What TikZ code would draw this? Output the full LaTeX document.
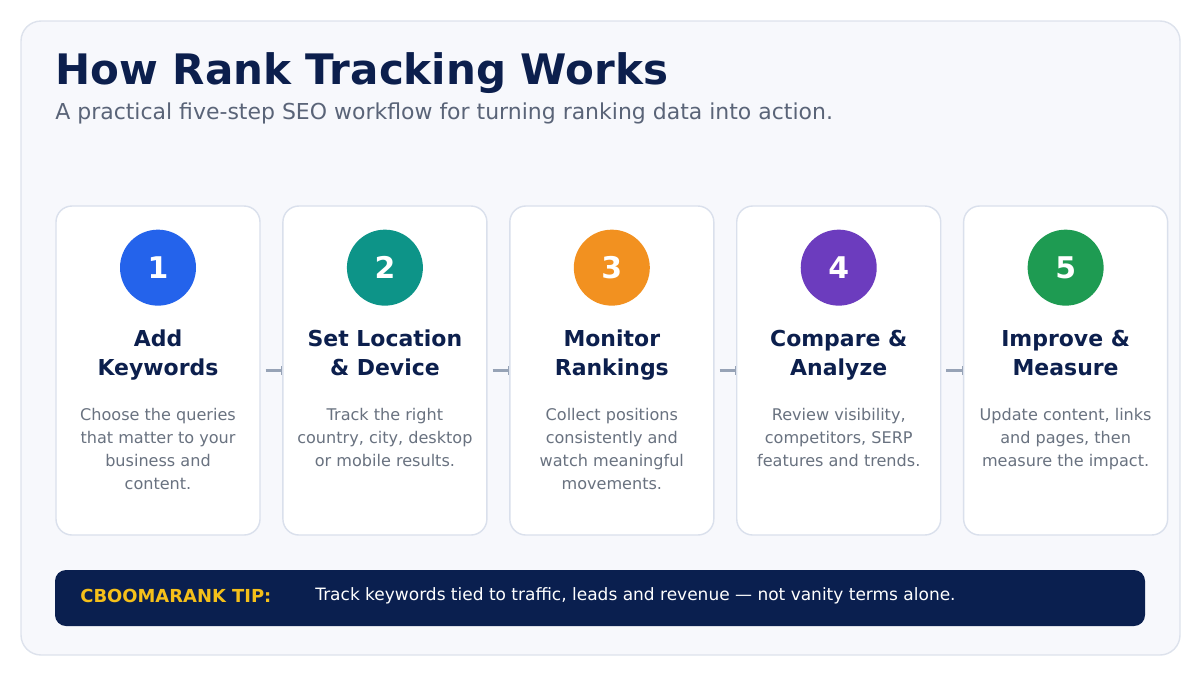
\documentclass[tikz,border=0pt]{standalone}
\usepackage{fontspec}
\setmainfont{DejaVu Sans}
\usepackage{xcolor}
\usetikzlibrary{arrows.meta,positioning}
\definecolor{panelbg}{RGB}{247,248,252}
\definecolor{panelframe}{RGB}{221,226,236}
\definecolor{cardframe}{RGB}{218,224,236}
\definecolor{navy}{RGB}{12,31,77}
\definecolor{subgray}{RGB}{90,100,120}
\definecolor{descgray}{RGB}{105,114,128}
\definecolor{linkgray}{RGB}{151,163,182}
\definecolor{stepblue}{RGB}{36,99,235}
\definecolor{stepteal}{RGB}{13,148,136}
\definecolor{steporange}{RGB}{242,145,32}
\definecolor{steppurple}{RGB}{108,60,190}
\definecolor{stepgreen}{RGB}{30,155,82}
\definecolor{tipbg}{RGB}{10,31,79}
\definecolor{tipgold}{RGB}{245,192,26}
\begin{document}
\begin{tikzpicture}[
  card/.style={draw=cardframe,line width=0.8pt,rounded corners=0.32cm,fill=white,
    minimum width=4.08cm,minimum height=6.58cm},
  badge/.style={circle,minimum size=1.52cm,inner sep=0pt,text=white,
    font=\fontsize{17}{20}\selectfont\bfseries},
  head/.style={align=center,inner sep=0pt,text=navy,
    font=\fontsize{12.5}{16.5}\selectfont\bfseries},
  desc/.style={align=center,inner sep=0pt,text=descgray,
    font=\fontsize{9.15}{13.1}\selectfont},
  link/.style={-{Bar[width=0.17cm,line width=0.5pt]},line width=0.06cm,linkgray,
    shorten <=0.1cm},
]
  \useasboundingbox (0,0) rectangle (24,-13.5);
  \draw[panelframe,fill=panelbg,line width=0.8pt,rounded corners=0.4cm]
    (0.42,-0.42) rectangle (23.6,-13.1);

  \node[anchor=base west,inner sep=0pt,text=navy,
    font=\fontsize{23.9}{28}\selectfont\bfseries] (title) at (1.1,-1.69)
    {How Rank Tracking Works};
  \node[anchor=base west,inner sep=0pt,text=subgray,
    font=\fontsize{12.5}{15}\selectfont] (subtitle) at (1.1,-2.38)
    {A practical five-step SEO workflow for turning ranking data into action.};

  % step cards
  \node[card] (c1) at (3.16,-7.41) {};
  \node[card,right=0.43cm of c1] (c2) {};
  \node[card,right=0.43cm of c2] (c3) {};
  \node[card,right=0.43cm of c3] (c4) {};
  \node[card,right=0.43cm of c4] (c5) {};

  \node[badge,fill=stepblue,below=0.48cm of c1.north] (n1) {1};
  \node[badge,fill=stepteal,below=0.48cm of c2.north] (n2) {2};
  \node[badge,fill=steporange,below=0.48cm of c3.north] (n3) {3};
  \node[badge,fill=steppurple,below=0.48cm of c4.north] (n4) {4};
  \node[badge,fill=stepgreen,below=0.48cm of c5.north] (n5) {5};

  \node[head,below=0.47cm of n1] (h1) {Add\\Keywords};
  \node[head,below=0.47cm of n2] (h2) {Set Location\\\& Device};
  \node[head,below=0.47cm of n3] (h3) {Monitor\\Rankings};
  \node[head,below=0.47cm of n4] (h4) {Compare \&\\Analyze};
  \node[head,below=0.47cm of n5] (h5) {Improve \&\\Measure};

  \node[desc,below=4.06cm of c1.north] (d1)
    {Choose the queries\\that matter to your\\business and\\content.};
  \node[desc,below=4.06cm of c2.north] (d2)
    {Track the right\\country, city, desktop\\or mobile results.};
  \node[desc,below=4.06cm of c3.north] (d3)
    {Collect positions\\consistently and\\watch meaningful\\movements.};
  \node[desc,below=4.06cm of c4.north] (d4)
    {Review visibility,\\competitors, SERP\\features and trends.};
  \node[desc,below=4.06cm of c5.north] (d5)
    {Update content, links\\and pages, then\\measure the impact.};

  \draw[link] (c1) -- (c2);
  \draw[link] (c2) -- (c3);
  \draw[link] (c3) -- (c4);
  \draw[link] (c4) -- (c5);

  % tip bar
  \node[fill=tipbg,rounded corners=0.22cm,minimum width=21.8cm,
    minimum height=1.12cm] (tip) at (12.0,-11.96) {};
  \node[anchor=west,inner sep=0pt,text=tipgold,
    font=\fontsize{10.2}{12}\selectfont\bfseries] (tiplabel) at (1.6,-11.92)
    {CBOOMARANK TIP:};
  \node[anchor=west,inner sep=0pt,text=white,
    font=\fontsize{9.67}{12}\selectfont] (tiptext) at (6.3,-11.92)
    {Track keywords tied to traffic, leads and revenue — not vanity terms alone.};
\end{tikzpicture}
\end{document}
